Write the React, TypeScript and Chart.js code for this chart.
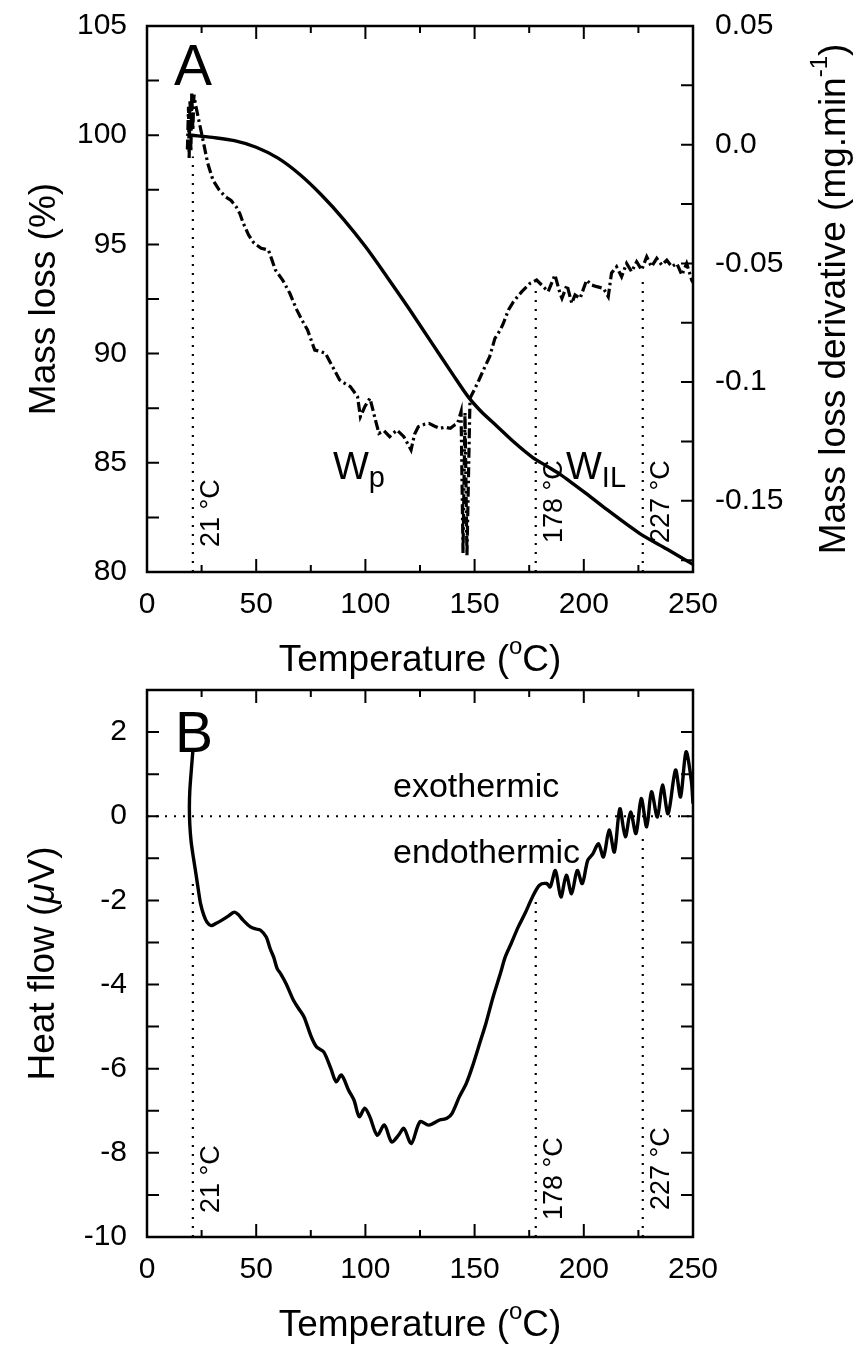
import React, { useEffect, useRef } from 'react';
import { Chart, registerables } from 'chart.js';

Chart.register(...registerables);
Chart.defaults.color = '#000';

const FONT = '"Liberation Sans", Arial, sans-serif';

// ---------- data ----------
const massTemp = [19, 20.5, 25, 30, 40, 50, 60, 70, 80, 90, 100, 110, 120, 130, 140, 147, 153, 160, 168, 176.5, 183, 189.5, 195, 201, 210, 225.5, 238, 250];
const massLoss = [100.0, 100.0, 99.95, 99.9, 99.75, 99.45, 98.95, 98.2, 97.25, 96.15, 94.9, 93.5, 92.05, 90.55, 89.05, 88.03, 87.35, 86.7, 85.95, 85.25, 84.85, 84.45, 84.05, 83.6, 82.9, 81.77, 81.05, 80.35];

const derivTemp = [18.5, 19.0, 19.3, 19.7, 20.1, 20.5, 21.0, 21.5, 22.2, 23.7, 25.3, 27.8, 30.2, 33, 35.9, 38.5, 40.8, 42.5, 44.1, 46.5, 49.0, 52.3, 55.6, 57, 58.8, 62.1, 65.4, 68.6, 71, 73.5, 76.8, 79, 81.7, 83.5, 85.8, 88.2, 90.5, 93.1, 96.4, 97.7, 99.7, 102.1, 104.6, 106.2, 108.5, 111.1, 114.4, 117.6, 120.9, 122.5, 124.2, 127, 129.1, 131.5, 134.0, 136.5, 138.9, 141, 142.2, 143.8, 144.7, 145.6, 146.5, 147.9, 150, 152.0, 154.5, 156.9, 159.3, 161.8, 163.2, 165.5, 167.8, 171.6, 175.4, 178.4, 180.7, 183.7, 186.8, 189.1, 190, 192.3, 194.5, 196.0, 198.3, 201.3, 203.6, 206.0, 209.0, 211.2, 212.7, 215.0, 217.3, 219.6, 221.9, 224.2, 226.5, 228.8, 231.0, 233.4, 235.7, 238.0, 240.3, 242.6, 244.9, 247.1, 249.4, 250];
const derivValues = [-0.002, 0.016, -0.006, 0.019, -0.003, 0.022, 0.006, 0.021, 0.017, 0.0104, 0.0034, -0.0078, -0.0149, -0.019, -0.0219, -0.0235, -0.0261, -0.029, -0.0331, -0.038, -0.0415, -0.0436, -0.0444, -0.048, -0.0528, -0.057, -0.0626, -0.0696, -0.074, -0.078, -0.0865, -0.087, -0.0879, -0.091, -0.0949, -0.0991, -0.1005, -0.1019, -0.1061, -0.1146, -0.1104, -0.1068, -0.116, -0.1216, -0.1205, -0.123, -0.1202, -0.123, -0.1286, -0.122, -0.1188, -0.1178, -0.1174, -0.1185, -0.1195, -0.119, -0.1195, -0.118, -0.1174, -0.1125, -0.172, -0.113, -0.173, -0.1068, -0.103, -0.0991, -0.094, -0.0893, -0.0816, -0.078, -0.0752, -0.0696, -0.0661, -0.0619, -0.0584, -0.057, -0.0591, -0.0619, -0.0549, -0.0626, -0.0647, -0.0591, -0.0668, -0.0633, -0.0647, -0.057, -0.0591, -0.0598, -0.0605, -0.064, -0.054, -0.0514, -0.0556, -0.05, -0.0535, -0.0493, -0.0528, -0.0472, -0.0514, -0.0479, -0.0507, -0.0486, -0.0514, -0.05, -0.0549, -0.05, -0.057, -0.058];

const heatTemp = [21.0, 20.3, 19.6, 19.4, 19.6, 20.2, 21.2, 22.5, 23.5, 24.5, 26.0, 27.5, 29.4, 31.5, 34.3, 37, 40.0, 42, 44.0, 47.4, 50, 52.0, 54.6, 56.4, 58.0, 59.6, 61.3, 63.7, 67.0, 69.4, 71.9, 75.2, 77.6, 80.9, 84.2, 86.6, 89.0, 92.3, 94.8, 97.2, 99.7, 102.0, 105.4, 108.7, 112.0, 115.2, 117.6, 121.0, 125.0, 129.0, 134.0, 137.3, 139.7, 143.0, 146.2, 149.5, 152.8, 155.2, 158.5, 161.8, 164.0, 166.7, 170.0, 173.0, 176.5, 179.7, 183.0, 184.6, 187.0, 189.5, 192.0, 194.4, 197.0, 199.3, 201.8, 204.2, 206.7, 209.0, 211.6, 214.0, 216.5, 219.0, 221.4, 223.9, 226.3, 228.8, 231.0, 233.7, 236.0, 238.6, 242.0, 244.3, 246.8, 249.2, 250.0];
const heatFlow = [1.55, 1.1, 0.6, 0.2, -0.2, -0.6, -0.97, -1.4, -1.75, -2.07, -2.35, -2.52, -2.6, -2.55, -2.47, -2.38, -2.28, -2.35, -2.47, -2.63, -2.68, -2.71, -2.87, -3.15, -3.35, -3.62, -3.75, -3.98, -4.37, -4.57, -4.77, -5.24, -5.48, -5.6, -6.0, -6.31, -6.15, -6.51, -6.75, -7.14, -6.94, -7.14, -7.58, -7.34, -7.74, -7.58, -7.42, -7.78, -7.26, -7.34, -7.22, -7.18, -7.06, -6.67, -6.35, -5.87, -5.32, -4.92, -4.29, -3.74, -3.35, -3.03, -2.63, -2.32, -1.92, -1.64, -1.6, -1.68, -1.29, -1.92, -1.4, -1.84, -1.29, -1.6, -1.05, -0.89, -0.65, -0.97, -0.33, -0.85, 0.18, -0.49, 0.1, -0.41, 0.42, -0.25, 0.58, -0.02, 0.74, 0.06, 1.1, 0.46, 1.53, 0.86, 0.3];

const markerTemps = [21, 178, 227];
const markerLabels = ['21 °C', '178 °C', '227 °C'];
const markerTopA = [-0.005, -0.06, -0.056];
const markerTopB = [-1.52, -2.0, -0.49];

// ticks
const xTickMarks = [0, 25, 50, 75, 100, 125, 150, 175, 200, 225, 250];
const xMajor = [0, 50, 100, 150, 200, 250];
const leftTicksA = [80, 85, 90, 95, 100, 105];
const leftMarksA = [80, 82.5, 85, 87.5, 90, 92.5, 95, 97.5, 100, 102.5, 105];
const rightTicksA = [-0.15, -0.1, -0.05, 0, 0.05];
const rightTickLabelsA = ['-0.15', '-0.1', '-0.05', '0.0', '0.05'];
const rightMarksA = [-0.175, -0.15, -0.125, -0.1, -0.075, -0.05, -0.025, 0, 0.025, 0.05];
const leftTicksB = [-10, -8, -6, -4, -2, 0, 2];
const leftMarksB = [-10, -9, -8, -7, -6, -5, -4, -3, -2, -1, 0, 1, 2, 3];

// ---------- layout ----------
const W = 862;
const HA = 680;
const HB = 667;
const LEFT = 147;
const RIGHT = 693;

type Seg = { t: string; k?: number; dy?: number; italic?: boolean };

function rich(ctx: CanvasRenderingContext2D, segs: Seg[], size: number, x: number, y: number, align: 'left' | 'center', rot = 0) {
  ctx.save();
  ctx.translate(x, y);
  if (rot) ctx.rotate(rot);
  ctx.textAlign = 'left';
  ctx.textBaseline = 'alphabetic';
  ctx.fillStyle = '#000';
  const fontOf = (s: Seg) => `${s.italic ? 'italic ' : ''}${Math.round(size * (s.k || 1))}px ${FONT}`;
  const widths = segs.map((s) => {
    ctx.font = fontOf(s);
    return ctx.measureText(s.t).width;
  });
  const total = widths.reduce((a, b) => a + b, 0);
  let cx = align === 'center' ? -total / 2 : 0;
  segs.forEach((s, i) => {
    ctx.font = fontOf(s);
    ctx.fillText(s.t, cx, (s.dy || 0) * size);
    cx += widths[i];
  });
  ctx.restore();
}

const pts = (xs: number[], ys: number[]) => xs.map((x, i) => ({ x, y: ys[i] }));

function framePlugin(leftMarks: number[], rightScale: string | null, rightMarks: number[]) {
  return {
    id: 'frameTicks',
    afterDatasetsDraw(chart: any) {
      const { ctx, chartArea: a, scales } = chart;
      ctx.save();
      ctx.strokeStyle = '#000';
      ctx.lineWidth = 2;
      ctx.beginPath();
      const xs = scales.x;
      xTickMarks.forEach((v) => {
        const px = xs.getPixelForValue(v);
        const len = xMajor.includes(v) ? 13 : 7;
        ctx.moveTo(px, a.bottom);
        ctx.lineTo(px, a.bottom - len);
        ctx.moveTo(px, a.top);
        ctx.lineTo(px, a.top + len);
      });
      const yl = scales.y;
      leftMarks.forEach((v) => {
        const py = yl.getPixelForValue(v);
        ctx.moveTo(a.left, py);
        ctx.lineTo(a.left + 12, py);
        if (!rightScale) {
          ctx.moveTo(a.right, py);
          ctx.lineTo(a.right - 12, py);
        }
      });
      if (rightScale) {
        const yr = scales[rightScale];
        rightMarks.forEach((v) => {
          const py = yr.getPixelForValue(v);
          ctx.moveTo(a.right, py);
          ctx.lineTo(a.right - 12, py);
        });
      }
      ctx.stroke();
      ctx.lineWidth = 2.5;
      ctx.strokeRect(a.left, a.top, a.right - a.left, a.bottom - a.top);
      ctx.restore();
    },
  };
}

const tickFont = { family: FONT, size: 30 };
const noGrid = { display: false, drawTicks: false };

function xScale(h: number, bottom: number) {
  return {
    type: 'linear',
    min: 0,
    max: 250,
    position: 'bottom',
    grid: noGrid,
    border: { display: false },
    ticks: { stepSize: 50, font: tickFont, color: '#000', padding: 15, maxRotation: 0, autoSkip: false },
    afterFit: (s: any) => {
      s.height = h - bottom;
      s.paddingLeft = 0;
      s.paddingRight = 0;
    },
  };
}

function yFit(width: number) {
  return (s: any) => {
    s.width = width;
    s.paddingTop = 0;
    s.paddingBottom = 0;
  };
}

const lineDs = (data: any[], axis: string, width: number, dash: number[] = [], tension = 0) => ({
  data,
  yAxisID: axis,
  showLine: true,
  borderColor: '#000',
  backgroundColor: '#000',
  borderWidth: width,
  borderDash: dash,
  pointRadius: 0,
  tension,
  fill: false,
});

export default function App() {
  const refA = useRef<HTMLCanvasElement>(null);
  const refB = useRef<HTMLCanvasElement>(null);

  useEffect(() => {
    const textA = {
      id: 'textA',
      afterDraw(chart: any) {
        const ctx = chart.ctx as CanvasRenderingContext2D;
        const xs = chart.scales.x;
        rich(ctx, [{ t: 'A' }], 57, 174, 85, 'left');
        rich(ctx, [{ t: 'W' }, { t: 'p', k: 0.75, dy: 0.2 }], 38, 333, 479, 'left');
        rich(ctx, [{ t: 'W' }, { t: 'IL', k: 0.75, dy: 0.22 }], 38, 566, 479, 'left');
        const starts = [547, 543, 543];
        markerTemps.forEach((t, i) => {
          rich(ctx, [{ t: markerLabels[i] }], 27, xs.getPixelForValue(t) + 26, starts[i], 'left', -Math.PI / 2);
        });
        rich(ctx, [{ t: 'Temperature (' }, { t: 'o', k: 0.65, dy: -0.45 }, { t: 'C)' }], 37, (LEFT + RIGHT) / 2, 671, 'center');
        rich(ctx, [{ t: 'Mass loss (%)' }], 37, 55, 299, 'center', -Math.PI / 2);
        rich(ctx, [{ t: 'Mass loss derivative (mg.min' }, { t: '-1', k: 0.65, dy: -0.5 }, { t: ')' }], 37, 845, 299, 'center', -Math.PI / 2);
      },
    };

    const chartA = new Chart(refA.current as HTMLCanvasElement, {
      type: 'scatter',
      data: {
        datasets: [
          lineDs(pts(massTemp, massLoss), 'y', 3.4, [], 0.3),
          lineDs(pts(derivTemp, derivValues), 'y2', 3.2, [10, 3.5, 2.5, 3.5], 0),
          ...markerTemps.map((t, i) => lineDs([{ x: t, y: -0.18 }, { x: t, y: markerTopA[i] }], 'y2', 2.2, [2, 7])),
        ] as any,
      },
      options: {
        responsive: false,
        animation: false,
        events: [],
        layout: { padding: { top: 26, left: 0, right: 0, bottom: 0 } },
        plugins: { legend: { display: false }, tooltip: { enabled: false } },
        scales: {
          x: xScale(HA, 572) as any,
          y: {
            type: 'linear',
            min: 80,
            max: 105,
            position: 'left',
            grid: noGrid,
            border: { display: false },
            ticks: { font: tickFont, color: '#000', padding: 20, includeBounds: false },
            afterBuildTicks: (s: any) => {
              s.ticks = leftTicksA.map((v) => ({ value: v }));
            },
            afterFit: yFit(LEFT),
          },
          y2: {
            type: 'linear',
            min: -0.18,
            max: 0.05,
            position: 'right',
            grid: noGrid,
            border: { display: false },
            ticks: {
              font: tickFont,
              color: '#000',
              padding: 22,
              includeBounds: false,
              callback: (v: any) => {
                const i = rightTicksA.findIndex((t) => Math.abs(t - Number(v)) < 1e-9);
                return i >= 0 ? rightTickLabelsA[i] : '';
              },
            },
            afterBuildTicks: (s: any) => {
              s.ticks = rightTicksA.map((v) => ({ value: v }));
            },
            afterFit: yFit(W - RIGHT),
          },
        } as any,
      },
      plugins: [framePlugin(leftMarksA, 'y2', rightMarksA), textA],
    });

    const textB = {
      id: 'textB',
      afterDraw(chart: any) {
        const ctx = chart.ctx as CanvasRenderingContext2D;
        const xs = chart.scales.x;
        rich(ctx, [{ t: 'B' }], 57, 175, 72, 'left');
        rich(ctx, [{ t: 'exothermic' }], 34, 393, 117, 'left');
        rich(ctx, [{ t: 'endothermic' }], 34, 393, 183, 'left');
        const starts = [533, 540, 530];
        markerTemps.forEach((t, i) => {
          rich(ctx, [{ t: markerLabels[i] }], 27, xs.getPixelForValue(t) + 26, starts[i], 'left', -Math.PI / 2);
        });
        rich(ctx, [{ t: 'Temperature (' }, { t: 'o', k: 0.65, dy: -0.45 }, { t: 'C)' }], 37, (LEFT + RIGHT) / 2, 656, 'center');
        rich(ctx, [{ t: 'Heat flow (' }, { t: 'μ', italic: true }, { t: 'V)' }], 37, 54, 283.5, 'center', -Math.PI / 2);
      },
    };

    const chartB = new Chart(refB.current as HTMLCanvasElement, {
      type: 'scatter',
      data: {
        datasets: [
          lineDs(pts(heatTemp, heatFlow), 'y', 3.4, [], 0.3),
          lineDs([{ x: 0, y: 0 }, { x: 250, y: 0 }], 'y', 2.2, [2, 7]),
          ...markerTemps.map((t, i) => lineDs([{ x: t, y: -10 }, { x: t, y: markerTopB[i] }], 'y', 2.2, [2, 7])),
        ] as any,
      },
      options: {
        responsive: false,
        animation: false,
        events: [],
        layout: { padding: { top: 10, left: 0, right: W - RIGHT, bottom: 0 } },
        plugins: { legend: { display: false }, tooltip: { enabled: false } },
        scales: {
          x: xScale(HB, 557) as any,
          y: {
            type: 'linear',
            min: -10,
            max: 3,
            position: 'left',
            grid: noGrid,
            border: { display: false },
            ticks: { font: tickFont, color: '#000', padding: 20, includeBounds: false },
            afterBuildTicks: (s: any) => {
              s.ticks = leftTicksB.map((v) => ({ value: v }));
            },
            afterFit: yFit(LEFT),
          },
        } as any,
      },
      plugins: [framePlugin(leftMarksB, null, []), textB],
    });

    return () => {
      chartA.destroy();
      chartB.destroy();
    };
  }, []);

  return (
    <div style={{ position: 'absolute', left: 0, top: 0, width: W, height: HA + HB, background: '#fff' }}>
      <canvas ref={refA} width={W} height={HA} style={{ display: 'block', width: W, height: HA }} />
      <canvas ref={refB} width={W} height={HB} style={{ display: 'block', width: W, height: HB }} />
    </div>
  );
}
